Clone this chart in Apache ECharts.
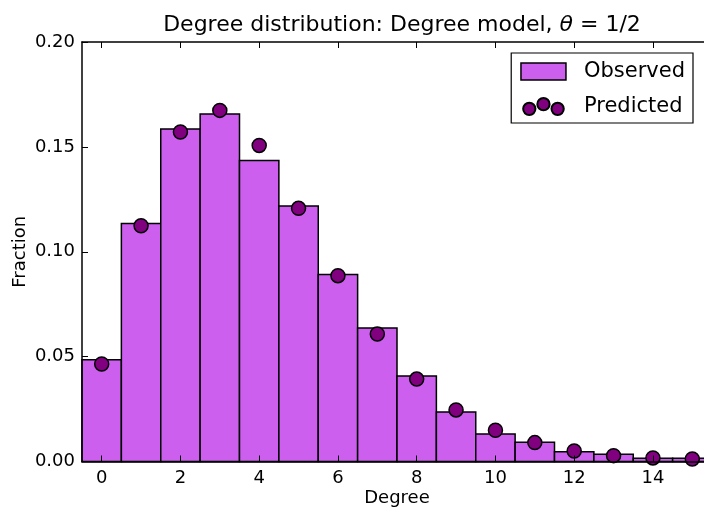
<!DOCTYPE html>
<html>
<head>
<meta charset="utf-8">
<script src="https://cdn.jsdelivr.net/npm/echarts@6/dist/echarts.min.js"></script>
<style>
html,body{margin:0;padding:0;background:#fff;}
#chart{width:704px;height:508px;}
</style>
</head>
<body>
<div id="chart"></div>
<script>
const categories = ['0','1','2','3','4','5','6','7','8','9','10','11','12','13','14','15'];
const observed = [0.0485, 0.1135, 0.1585, 0.1657, 0.1435, 0.1218, 0.0892, 0.0637, 0.0408, 0.0236, 0.0131, 0.0092, 0.0046, 0.0034, 0.0015, 0.0015];
const predicted = [0.0465, 0.1124, 0.1571, 0.1674, 0.1507, 0.1207, 0.0886, 0.0608, 0.0393, 0.0246, 0.0149, 0.0090, 0.0050, 0.0028, 0.0017, 0.0012];
const yTicks = [0, 0.05, 0.10, 0.15, 0.20];
const titleText = 'Degree distribution: Degree model, ';
const titleTheta = 'θ';
const titleTail = ' = 1/2';

const FONT = 'DejaVu Sans';
const BAR_COLOR = '#CC5FEE';
const chart = echarts.init(document.getElementById('chart'), null, {renderer: 'canvas'});

const dotsIcon = 'path://M0,11.5a6.5,6.5 0 1,0 13,0a6.5,6.5 0 1,0 -13,0Z M15,6.5a6.5,6.5 0 1,0 13,0a6.5,6.5 0 1,0 -13,0Z M30,11.5a6.5,6.5 0 1,0 13,0a6.5,6.5 0 1,0 -13,0Z';

function renderBar(params, api) {
  const idx = api.value(0);
  const val = api.value(1);
  const top = api.coord([idx, val]);
  const base = api.coord([idx, 0]);
  const w = api.size([1, 0])[0];
  return {
    type: 'rect',
    shape: {x: top[0] - w / 2, y: top[1], width: w, height: base[1] - top[1]},
    style: {fill: BAR_COLOR, stroke: '#000', lineWidth: 1.5}
  };
}

const option = {
  backgroundColor: '#ffffff',
  animation: false,
  textStyle: {fontFamily: FONT},
  title: {
    text: '{a|' + titleText + '}{i|' + titleTheta + '}{a|' + titleTail + '}',
    left: 397,
    textAlign: 'center',
    top: 9,
    textStyle: {
      fontWeight: 'normal',
      rich: {
        a: {fontFamily: FONT, fontSize: 22, fontWeight: 'normal', color: '#000'},
        i: {fontFamily: FONT, fontSize: 22, fontWeight: 'normal', fontStyle: 'italic', color: '#000'}
      }
    }
  },
  legend: {
    orient: 'vertical',
    right: 11,
    top: 53,
    padding: [8, 8, 6, 9],
    itemGap: 14,
    itemWidth: 45,
    itemHeight: 17,
    borderColor: '#000',
    borderWidth: 1.2,
    borderRadius: 0,
    backgroundColor: '#fff',
    textStyle: {fontFamily: FONT, fontSize: 21, color: '#000', padding: [0, 0, 0, 13]},
    data: [
      {name: 'Observed', icon: 'rect', itemStyle: {color: BAR_COLOR, borderColor: '#000', borderWidth: 1.5}},
      {name: 'Predicted', icon: dotsIcon}
    ]
  },
  grid: {left: 82, right: -8, top: 42, bottom: 46.5, containLabel: false, outerBoundsMode: 'none'},
  xAxis: [
    {
      type: 'category',
      data: categories,
      boundaryGap: true,
      z: 5,
      name: 'Degree',
      nameLocation: 'middle',
      nameGap: 28,
      nameMoveOverlap: false,
      nameTextStyle: {fontFamily: FONT, fontSize: 18, color: '#000'},
      axisLine: {show: true, lineStyle: {color: '#000', width: 1.5}},
      axisTick: {show: true, inside: true, alignWithLabel: true, interval: 1, length: 6, lineStyle: {color: '#000', width: 1}},
      axisLabel: {show: true, interval: 1, margin: 8, fontFamily: FONT, fontSize: 18, color: '#000'},
      splitLine: {show: false}
    },
    {
      type: 'category',
      data: categories,
      position: 'top',
      boundaryGap: true,
      z: 5,
      axisLine: {show: true, lineStyle: {color: '#000', width: 1.5}},
      axisTick: {show: true, inside: true, alignWithLabel: true, interval: 1, length: 6, lineStyle: {color: '#000', width: 1}},
      axisLabel: {show: false},
      splitLine: {show: false}
    }
  ],
  yAxis: {
    type: 'value',
    min: yTicks[0],
    max: yTicks[yTicks.length - 1],
    interval: 0.05,
    z: 5,
    name: 'Fraction',
    nameLocation: 'middle',
    nameGap: 53,
    nameMoveOverlap: false,
    nameTextStyle: {fontFamily: FONT, fontSize: 18, color: '#000'},
    axisLine: {show: true, lineStyle: {color: '#000', width: 1.5}},
    axisTick: {show: true, inside: true, length: 6, lineStyle: {color: '#000', width: 1}},
    axisLabel: {show: true, margin: 7, fontFamily: FONT, fontSize: 18, color: '#000', formatter: v => v.toFixed(2)},
    splitLine: {show: false}
  },
  series: [
    {
      name: 'Observed',
      type: 'custom',
      xAxisIndex: 0,
      renderItem: renderBar,
      encode: {x: 0, y: 1},
      data: observed.map((v, i) => [i, v]),
      itemStyle: {color: BAR_COLOR, borderColor: '#000', borderWidth: 1.5},
      emphasis: {disabled: true},
      z: 2
    },
    {
      name: 'Predicted',
      type: 'scatter',
      xAxisIndex: 0,
      data: predicted,
      symbol: 'circle',
      symbolSize: 14,
      itemStyle: {color: '#800080', borderColor: '#000', borderWidth: 1.5, opacity: 1},
      emphasis: {disabled: true},
      z: 3
    }
  ]
};
chart.setOption(option);
</script>
</body>
</html>
